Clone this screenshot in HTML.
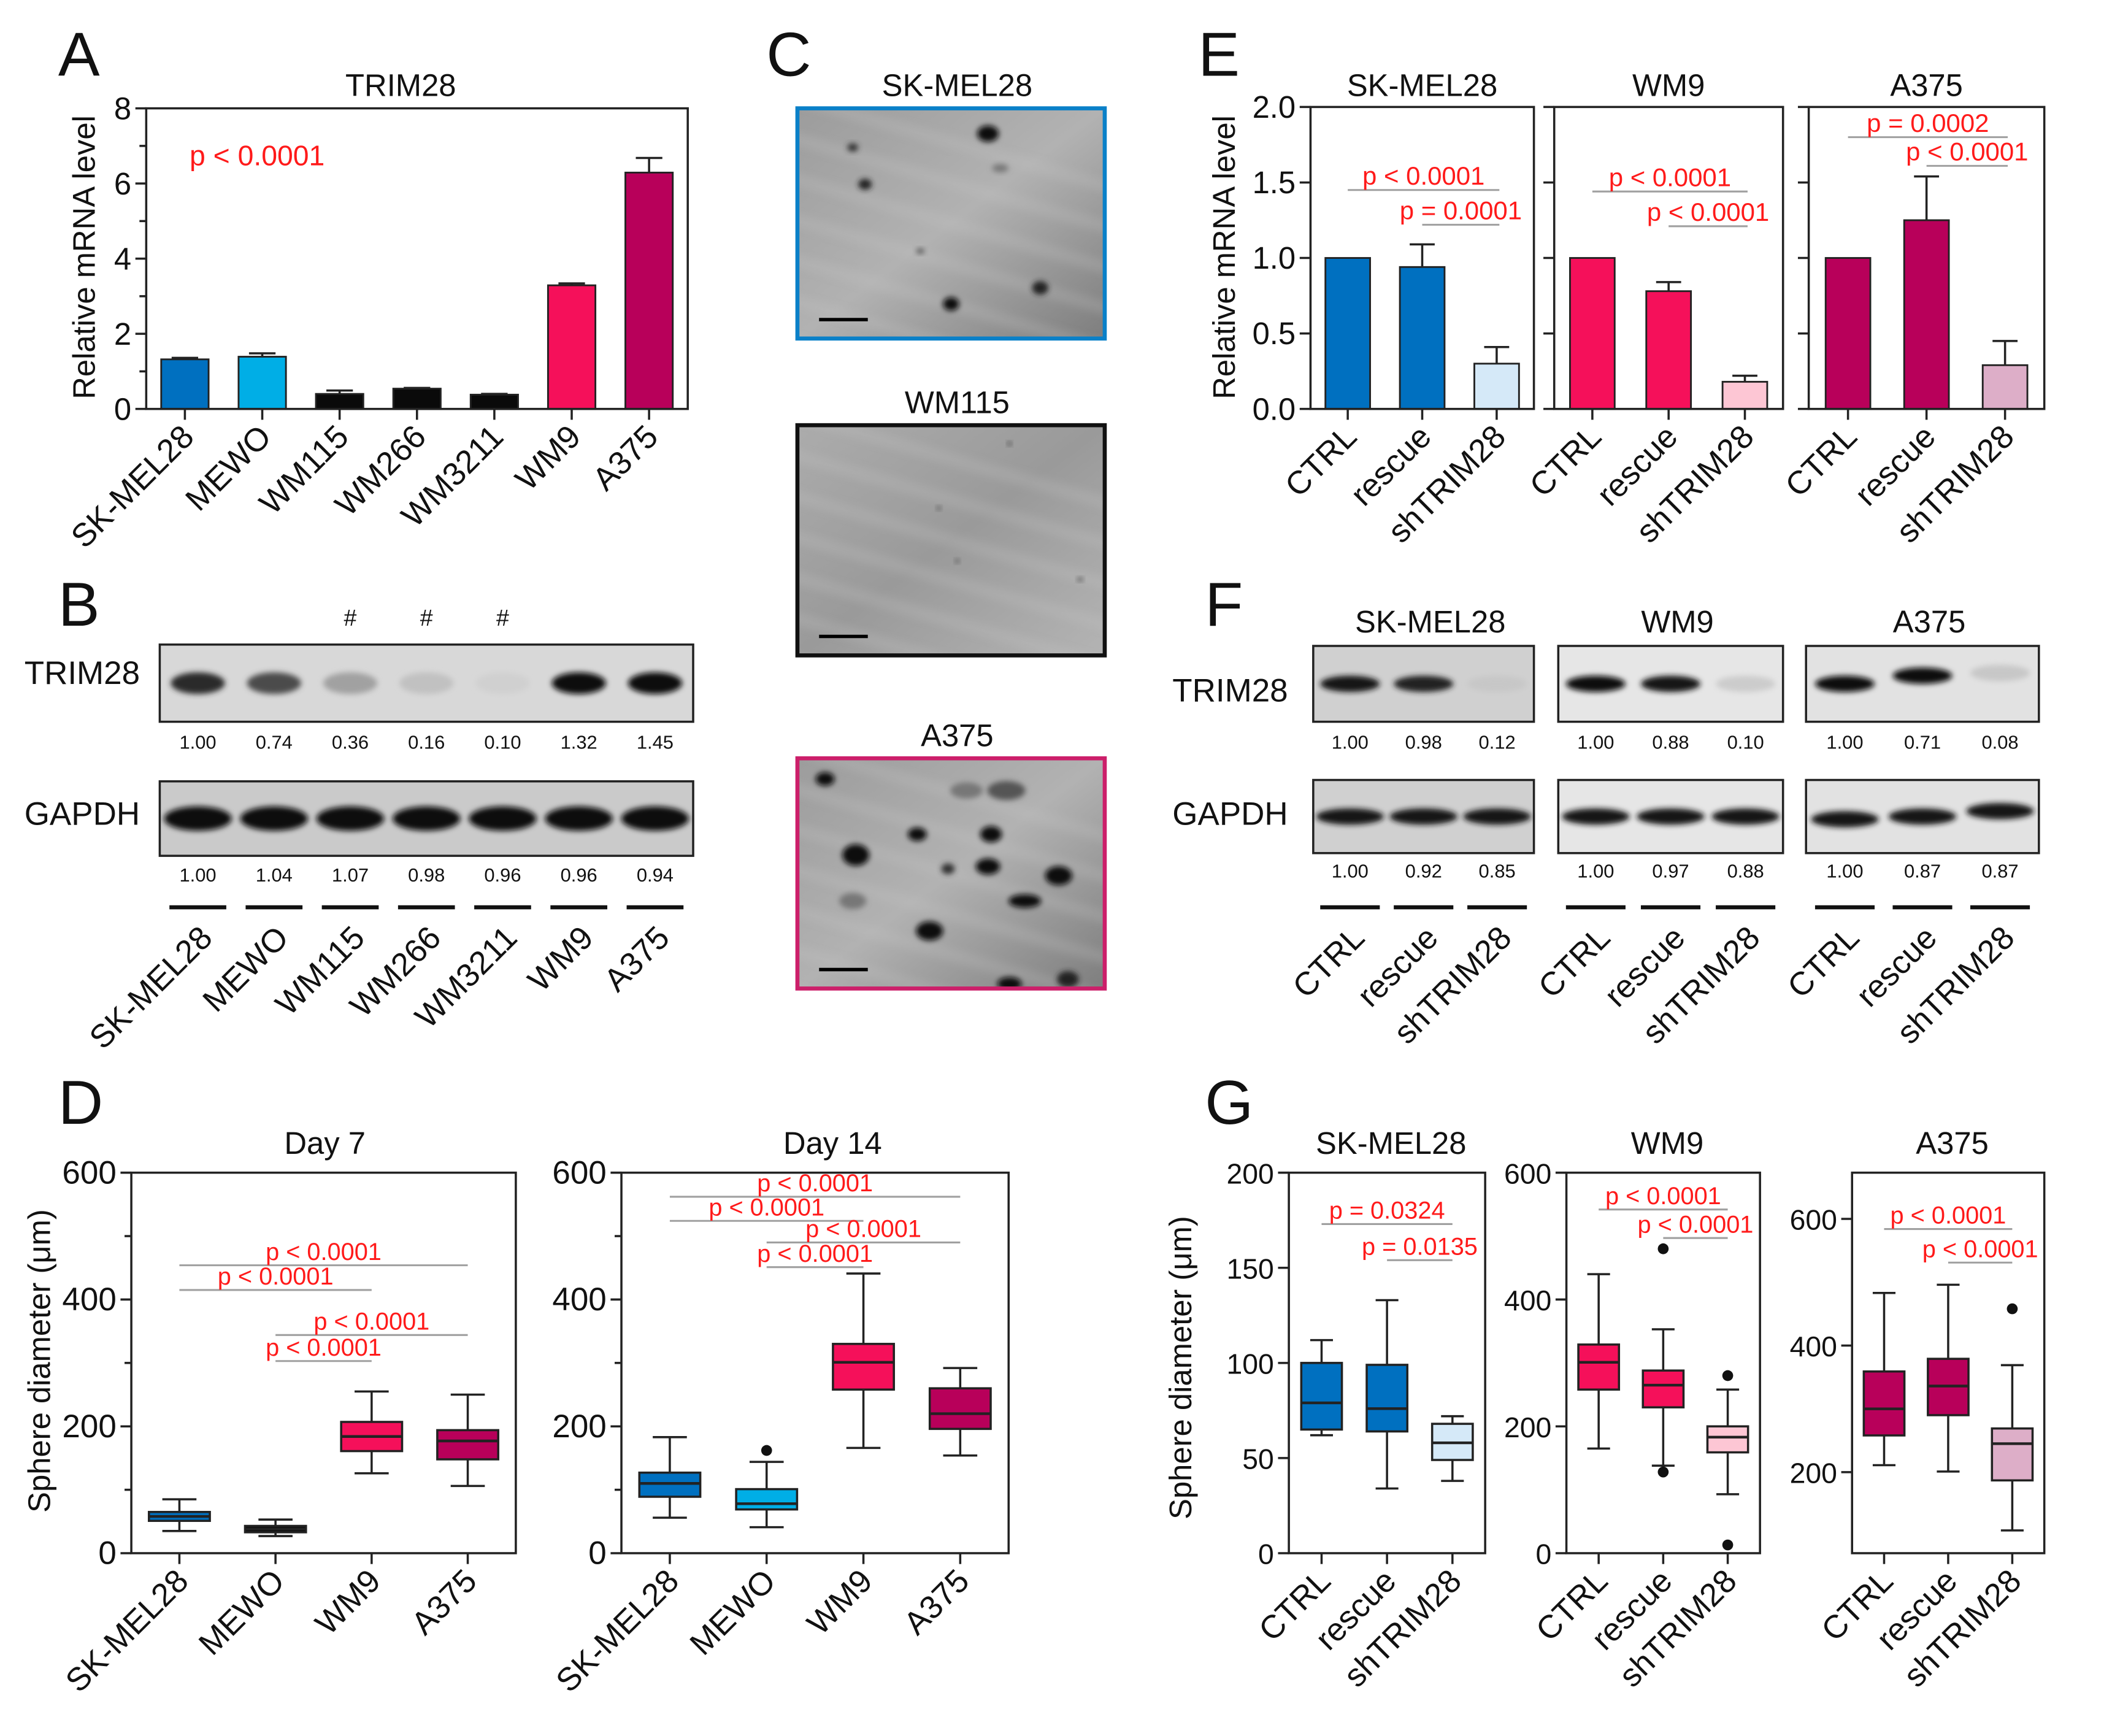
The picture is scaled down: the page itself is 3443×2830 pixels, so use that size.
<!DOCTYPE html>
<html><head><meta charset="utf-8"><style>
html,body{margin:0;padding:0;background:#fff;}
svg{display:block;}
text{font-family:"Liberation Sans",sans-serif;}
.n{font-family:"Liberation Sans Narrow","Liberation Sans",sans-serif;}
</style></head><body>
<svg id="fig" width="3443" height="2830" viewBox="0 0 1560 1282" preserveAspectRatio="none" xmlns="http://www.w3.org/2000/svg">
<defs>
<filter id="blur1" x="-50%" y="-50%" width="200%" height="200%"><feGaussianBlur stdDeviation="2"/></filter>
<filter id="blur3" x="-50%" y="-50%" width="200%" height="200%"><feGaussianBlur stdDeviation="4"/></filter>
<linearGradient id="mic" x1="0" y1="0" x2="1" y2="1"><stop offset="0" stop-color="#9c9c9c"/><stop offset="0.5" stop-color="#b2b2b2"/><stop offset="1" stop-color="#7e7e7e"/></linearGradient>
<linearGradient id="mic2" x1="0" y1="0" x2="1" y2="1"><stop offset="0" stop-color="#acacac"/><stop offset="0.5" stop-color="#9a9a9a"/><stop offset="1" stop-color="#b4b4b4"/></linearGradient>
<clipPath id="clipC1"><rect x="589" y="80" width="227" height="170"/></clipPath>
<clipPath id="clipC2"><rect x="589" y="314" width="227" height="170"/></clipPath>
<clipPath id="clipC3"><rect x="589" y="560" width="227" height="170"/></clipPath>
</defs>
<g id="root"></g>
</svg>
<script>
// ---------- DATA ----------
const aCats = ['SK-MEL28','MEWO','WM115','WM266','WM3211','WM9','A375'];
const aVals = [1.32,1.39,0.40,0.54,0.38,3.29,6.29];
const aErr = [0.04,0.09,0.09,0.02,0.02,0.05,0.39];
const aTicks = [0,2,4,6,8];
const bTrim = ['1.00','0.74','0.36','0.16','0.10','1.32','1.45'];
const bGapdh = ['1.00','1.04','1.07','0.98','0.96','0.96','0.94'];
const bTrimIntensity = [0.85,0.7,0.3,0.15,0.08,1.0,1.0];
const eGroups = ['SK-MEL28','WM9','A375'];
const eCats = ['CTRL','rescue','shTRIM28'];
const eSK = [1.0,0.94,0.30];
const eSKErr = [0,0.15,0.11];
const eWM9 = [1.0,0.78,0.18];
const eWM9Err = [0,0.06,0.04];
const eA375 = [1.0,1.25,0.29];
const eA375Err = [0,0.29,0.16];
const eTicks = [0,0.5,1.0,1.5,2.0];
const fTrimSK = ['1.00','0.98','0.12'];
const fTrimWM9 = ['1.00','0.88','0.10'];
const fTrimA375 = ['1.00','0.71','0.08'];
const fGapSK = ['1.00','0.92','0.85'];
const fGapWM9 = ['1.00','0.97','0.88'];
const fGapA375 = ['1.00','0.87','0.87'];
const dCats = ['SK-MEL28','MEWO','WM9','A375'];
const d7Min = [35,27,126,106];
const d7Q1 = [51,33,161,148];
const d7Med = [58,38,184,177];
const d7Q3 = [65,43,207,194];
const d7Max = [85,53,255,250];
const d14Min = [56,41,166,154];
const d14Q1 = [89,69,258,196];
const d14Med = [110,78,301,220];
const d14Q3 = [127,101,330,260];
const d14Max = [183,144,441,292];
const d14Out = [[],[162],[],[]];
const gSKMin = [62,34,38], gSKQ1 = [65,64,49], gSKMed = [79,76,58], gSKQ3 = [100,99,68], gSKMax = [112,133,72];
const gWMMin = [165,138,93], gWMQ1 = [258,230,159], gWMMed = [301,265,183], gWMQ3 = [329,288,200], gWMMax = [440,353,258];
const gWMOut = [[],[480,128],[280,13]];
const gAMin = [211,201,108], gAQ1 = [258,290,187], gAMed = [300,336,245], gAQ3 = [359,379,269], gAMax = [483,496,369];
const gAOut = [[],[],[458]];

// ---------- HELPERS ----------
const NS = 'http://www.w3.org/2000/svg';
const root = document.getElementById('root');
function mk(tag, attrs, parent){
  const e = document.createElementNS(NS, tag);
  for (const k in attrs) e.setAttribute(k, attrs[k]);
  (parent||root).appendChild(e);
  return e;
}
function txt(x,y,s,size,anchor,fill,cls,rot){
  const t = mk('text',{x:x,y:y,'font-size':size,'text-anchor':anchor||'start',fill:fill||'#111'});
  if (cls) t.setAttribute('class',cls);
  if (rot!==undefined) t.setAttribute('transform','rotate('+rot+' '+x+' '+y+')');
  t.textContent = s;
  return t;
}
function line(x1,y1,x2,y2,stroke,w){
  return mk('line',{x1:x1,y1:y1,x2:x2,y2:y2,stroke:stroke||'#222','stroke-width':w||1.6});
}
function yScale(y0,y1,mn,mx){ return v => y1 - (v-mn)/(mx-mn)*(y1-y0); }
function xBand(x0,x1,n){ const s=(x1-x0)/n; return i => x0 + (i+0.5)*s; }

function frame(x0,x1,y0,y1){
  const r = mk('rect',{x:x0,y:y0,width:x1-x0,height:y1-y0,fill:'none',stroke:'#222','stroke-width':1.6});
  
  
}
function yAxis(x0,ys,ticks,labels,minor,size,cls){
  ticks.forEach((v,i)=>{
    const l = line(x0-8,ys(v),x0,ys(v));
    
    
    if (labels){
      const t = txt(x0-11,ys(v)+8,labels[i],size||23,'end','#111',cls);
      
      
    }
  });
  (minor||[]).forEach(v=>{
    const l = line(x0-5,ys(v),x0,ys(v));
    
    
  });
}
function xLabels(cats,xb,yb,size,cls,off){
  cats.forEach((c,i)=>{
    const l = line(xb(i),yb,xb(i),yb+8);
    
    
    const x = xb(i)+(off||8), y = yb+22;
    const t = txt(x,y,c,size||24,'end','#111',cls,-45);
    
    
  });
}
function pLine(xa,xb2,y,label,size){
  const l = line(xa,y,xb2,y,'#a0a0a0',1.4);
  
  
  const t = txt((xa+xb2)/2,y-4,label,size||18,'middle','#ff1a1a','n');
  
  
}
function bars(vals,errs,xb,ys,w,colors){
  vals.forEach((v,i)=>{
    const x = xb(i);
    if (errs[i]>0){
      const e1 = line(x,ys(v),x,ys(v+errs[i]),'#222',1.6);
      
      
      const e2 = line(x-w*0.28,ys(v+errs[i]),x+w*0.28,ys(v+errs[i]),'#222',1.6);
      
      
    }
    const r = mk('rect',{x:x-w/2,y:ys(v),width:w,height:ys(0)-ys(v),fill:colors[i],stroke:'#222','stroke-width':1.3});
    
    
  });
}
function boxes(mn,q1,md,q3,mx,outs,xb,ys,w,colors){
  mn.forEach((v,i)=>{
    const x = xb(i);
    const wl = line(x,ys(mn[i]),x,ys(q1[i]));
    
    
    const wh = line(x,ys(q3[i]),x,ys(mx[i]));
    
    
    const c1 = line(x-w*0.28,ys(mn[i]),x+w*0.28,ys(mn[i]));
    
    
    const c2 = line(x-w*0.28,ys(mx[i]),x+w*0.28,ys(mx[i]));
    
    
    const r = mk('rect',{x:x-w/2,y:ys(q3[i]),width:w,height:Math.max(2,ys(q1[i])-ys(q3[i])),fill:colors[i],stroke:'#222','stroke-width':1.6});
    
    
    const m = line(x-w/2,ys(md[i]),x+w/2,ys(md[i]),'#222',2);
    
    
    (outs[i]||[]).forEach(o=>{
      const c = mk('circle',{cx:x,cy:ys(o),r:4,fill:'#111'});
      
      
    });
  });
}
function letter(x,y,s){
  const t = txt(x,y,s,46,'start','#111');
  
  
}
function title(x,y,s,size){
  const t = txt(x,y,s,size||23,'middle','#111');
  
  
}
function ylab(x,y,s,size){
  const t = txt(x,y,s,size||23,'middle','#111',null,-90);
  
  
}
function blot(x0,x1,y0,y1,n,intens,bg,bandW,bandH,tilt){
  const r = mk('rect',{x:x0,y:y0,width:x1-x0,height:y1-y0,fill:bg,stroke:'#222','stroke-width':1.6});
  
  
  const xb = xBand(x0,x1,n);
  intens.forEach((v,i)=>{
    const c = Math.round(225 - 215*v);
    const ty = (tilt && tilt[i]) || 0;
    const e = mk('ellipse',{cx:xb(i),cy:(y0+y1)/2+ty,rx:bandW/2,ry:bandH/2,fill:'rgb('+c+','+c+','+c+')',filter:'url(#blur1)'});
    
    
  });
  return xb;
}
function quant(xb,vals,y){
  vals.forEach((v,i)=>{
    const t = txt(xb(i),y,v,14,'middle','#111');
    
    
  });
}
function laneLabels(xb,cats,yl,half,size){
  cats.forEach((c,i)=>{
    const l = line(xb(i)-half,yl,xb(i)+half,yl,'#111',3);
    
    
    const x = xb(i)+12, y = yl+24;
    const t = txt(x,y,c,size||24,'end','#111',null,-45);
    
    
  });
}

// ---------- PANEL A ----------
letter(43,56,'A');
title(296,71,'TRIM28');
ylab(70,190,'Relative mRNA level',23);
{
  const x0=108,x1=508,y0=80,y1=302;
  const ys = yScale(y0,y1,0,8), xb = xBand(x0,x1,aCats.length);
  const cols = ['#0070c0','#00aee6','#0a0a0a','#0a0a0a','#0a0a0a','#f5105a','#b8005a'];
  bars(aVals,aErr,xb,ys,35,cols);
  frame(x0,x1,y0,y1);
  yAxis(x0,ys,aTicks,aTicks.map(String),[1,3,5,7],23);
  xLabels(aCats,xb,y1,24,null,8);
  const p = txt(140,122,'p < 0.0001',21,'start','#ff1a1a');
  
  
}

// ---------- PANEL B ----------
letter(43,462,'B');
{
  const xb = blot(118,512,476,533,7,bTrimIntensity,'#d8d8d8',40,16);
  quant(xb,bTrim,553);
  [2,3,4].forEach(i=>{
    const h = txt(xb(i),462,'#',17,'middle','#111');
    
    
  });
  const xg = blot(118,512,577,632,7,[1,1,1,1,1,1,1],'#cacaca',50,18);
  quant(xg,bGapdh,651);
  laneLabels(xg,aCats,670,21,24);
  const t1 = txt(18,505,'TRIM28',24,'start','#111');
  
  
  const t2 = txt(18,609,'GAPDH',24,'start','#111');
  
  
}

// ---------- PANEL C ----------
letter(566,56,'C');
function micro(y0,ttl,border,grad,blobs,name,clip){
  title(707,y0-9,ttl);
  const x0=589,w=227,h=170;
  const g = mk('g',{'clip-path':'url(#'+clip+')'});
  
  
  const bg = mk('rect',{x:x0,y:y0,width:w,height:h,fill:'url(#'+grad+')'},g);
  
  
  for (let k=0;k<7;k++){
    const s = mk('line',{x1:x0-10,y1:y0+k*30-10,x2:x0+w+10,y2:y0+k*30+60,stroke:'#c8c8c8','stroke-width':6,opacity:0.35,filter:'url(#blur3)'},g);
    
    
  }
  blobs.forEach(b=>{
    const e = mk('ellipse',{cx:x0+b[0]*w,cy:y0+b[1]*h,rx:b[2],ry:b[3],fill:b[4]||'#0a0a0a',filter:'url(#blur1)'},g);
    
    
  });
  const r = mk('rect',{x:x0,y:y0,width:w,height:h,fill:'none',stroke:border,'stroke-width':3});
  
  
  const sb = line(x0+16,y0+h-14,x0+52,y0+h-14,'#000',2.5);
  
  
}
micro(80,'SK-MEL28','#0a80c8','mic',[[0.62,0.11,8,6],[0.18,0.17,4,3,'#333'],[0.22,0.33,5,4,'#222'],[0.5,0.85,6,5],[0.79,0.78,6,5,'#222'],[0.4,0.62,3,2,'#555'],[0.66,0.26,6,3,'#777']],'micrograph-sk-mel28','clipC1');
micro(314,'WM115','#111','mic2',[[0.69,0.08,1.5,1.5,'#333'],[0.46,0.36,1.5,1.5,'#444'],[0.52,0.59,1.5,1.5,'#444'],[0.92,0.67,2,1.5,'#444']],'micrograph-wm115','clipC2');
micro(560,'A375','#cc1f6a','mic',[[0.09,0.09,7,5],[0.19,0.42,10,8],[0.39,0.33,7,5],[0.63,0.33,8,6],[0.62,0.47,9,6],[0.49,0.48,5,4,'#333'],[0.85,0.51,10,7],[0.74,0.62,12,5],[0.43,0.75,10,7],[0.69,0.98,9,5],[0.88,0.96,8,6,'#222'],[0.68,0.14,14,7,'#555'],[0.55,0.14,12,6,'#777'],[0.18,0.62,10,6,'#777']],'micrograph-a375','clipC3');

// ---------- PANEL D ----------
letter(43,830,'D');
ylab(37,1005,'Sphere diameter (\u03bcm)',23);
{
  const y0=866,y1=1147;
  const ys = yScale(y0,y1,0,600);
  {
    const x0=97,x1=381, xb = xBand(x0,x1,4);
    title(240,852,'Day 7',23);
    boxes(d7Min,d7Q1,d7Med,d7Q3,d7Max,[[],[],[],[]],xb,ys,45,['#0070c0','#0a0a0a','#f5105a','#b8005a']);
    frame(x0,x1,y0,y1);
    yAxis(x0,ys,[0,200,400,600],['0','200','400','600'],[100,300,500],24,'n');
    xLabels(dCats,xb,y1,24,'n',8);
    pLine(xb(0),xb(3),ys(454),'p < 0.0001');
    pLine(xb(0),xb(2),ys(415),'p < 0.0001');
    pLine(xb(1),xb(3),ys(344),'p < 0.0001');
    pLine(xb(1),xb(2),ys(303),'p < 0.0001');
  }
  {
    const x0=459,x1=745, xb = xBand(x0,x1,4);
    title(615,852,'Day 14',23);
    boxes(d14Min,d14Q1,d14Med,d14Q3,d14Max,d14Out,xb,ys,45,['#0070c0','#00aee6','#f5105a','#b8005a']);
    frame(x0,x1,y0,y1);
    yAxis(x0,ys,[0,200,400,600],['0','200','400','600'],[100,300,500],24,'n');
    xLabels(dCats,xb,y1,24,'n',8);
    pLine(xb(0),xb(3),ys(562),'p < 0.0001');
    pLine(xb(0),xb(2),ys(524),'p < 0.0001');
    pLine(xb(1),xb(3),ys(490),'p < 0.0001');
    pLine(xb(1),xb(2),ys(451),'p < 0.0001');
  }
}

// ---------- PANEL E ----------
letter(885,56,'E');
ylab(912,190,'Relative mRNA level',23);
{
  const y0=79,y1=302, ys = yScale(y0,y1,0,2);
  const xr = [[968,1133],[1148,1317],[1336,1510]];
  const vals = [eSK,eWM9,eA375], errs = [eSKErr,eWM9Err,eA375Err];
  const cols = [['#0070c0','#0070c0','#d5e9f8'],['#f5105a','#f5105a','#fdc6d4'],['#b8005a','#b8005a','#ddaec8']];
  const lines = [[[0,2,1.45,'p < 0.0001'],[1,2,1.22,'p = 0.0001']],[[0,2,1.44,'p < 0.0001'],[1,2,1.21,'p < 0.0001']],[[0,2,1.80,'p = 0.0002'],[1,2,1.61,'p < 0.0001']]];
  eGroups.forEach((g,k)=>{
    const xb = xBand(xr[k][0],xr[k][1],3);
    title((xr[k][0]+xr[k][1])/2,71,g,23);
    bars(vals[k],errs[k],xb,ys,33,cols[k]);
    frame(xr[k][0],xr[k][1],y0,y1);
    yAxis(xr[k][0],ys,eTicks,k===0?eTicks.map(v=>v.toFixed(1)):null,[],23);
    xLabels(eCats,xb,y1,24,null,8);
    lines[k].forEach(L=>pLine(xb(L[0]),xb(L[1])+2,ys(L[2]),L[3],19));
  });
}

// ---------- PANEL F ----------
letter(890,462,'F');
{
  const xr = [[970,1133],[1151,1317],[1334,1506]];
  const trims = [fTrimSK,fTrimWM9,fTrimA375], gaps = [fGapSK,fGapWM9,fGapA375];
  const tI = [[0.95,0.9,0.12],[1,0.95,0.1],[1,1,0.12]];
  const bgs = ['#d0d0d0','#e6e6e6','#e2e2e2'];
  eGroups.forEach((g,k)=>{
    title((xr[k][0]+xr[k][1])/2+5,467,g,23);
    const xb = blot(xr[k][0],xr[k][1],477,533,3,tI[k],bgs[k],44,12,k===2?[0,-6,-8]:null);
    quant(xb,trims[k],553);
    const xg = blot(xr[k][0],xr[k][1],576,630,3,[0.95,0.95,0.95],bgs[k],50,12,k===2?[2,0,-4]:null);
    quant(xg,gaps[k],648);
    laneLabels(xg,eCats,670,22,24);
  });
  const t1 = txt(866,518,'TRIM28',24,'start','#111');
  
  
  const t2 = txt(866,609,'GAPDH',24,'start','#111');
  
  
}

// ---------- PANEL G ----------
letter(890,830,'G');
ylab(880,1010,'Sphere diameter (\u03bcm)',23);
{
  const y0=866,y1=1147;
  const cfg = [
    {x:[952,1097],mn:0,mx:200,ticks:[0,50,100,150,200],d:[gSKMin,gSKQ1,gSKMed,gSKQ3,gSKMax],o:[[],[],[]],c:['#0070c0','#0070c0','#d5e9f8'],
     p:[[0,2,173,'p = 0.0324'],[1,2,154,'p = 0.0135']],t:'SK-MEL28'},
    {x:[1157,1300],mn:0,mx:600,ticks:[0,200,400,600],d:[gWMMin,gWMQ1,gWMMed,gWMQ3,gWMMax],o:gWMOut,c:['#f5105a','#f5105a','#fdc6d4'],
     p:[[0,2,542,'p < 0.0001'],[1,2,497,'p < 0.0001']],t:'WM9'},
    {x:[1368,1510],mn:72,mx:673,ticks:[200,400,600],d:[gAMin,gAQ1,gAMed,gAQ3,gAMax],o:gAOut,c:['#b8005a','#b8005a','#ddaec8'],
     p:[[0,2,584,'p < 0.0001'],[1,2,531,'p < 0.0001']],t:'A375'}
  ];
  cfg.forEach(C=>{
    const ys = yScale(y0,y1,C.mn,C.mx), xb = xBand(C.x[0],C.x[1],3);
    title((C.x[0]+C.x[1])/2+3,852,C.t,23);
    boxes(C.d[0],C.d[1],C.d[2],C.d[3],C.d[4],C.o,xb,ys,30,C.c);
    frame(C.x[0],C.x[1],y0,y1);
    yAxis(C.x[0],ys,C.ticks,C.ticks.map(String),[],21,'n');
    xLabels(eCats,xb,y1,24,null,8);
    C.p.forEach(L=>pLine(xb(L[0]),xb(L[1]),ys(L[2]),L[3],18));
  });
}
</script>
</body></html>
